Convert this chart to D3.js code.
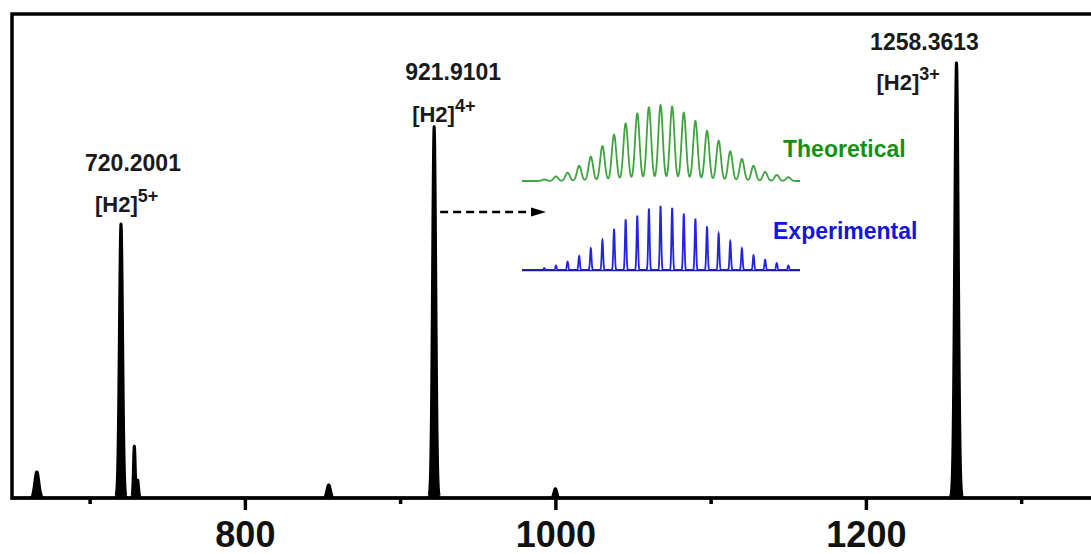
<!DOCTYPE html>
<html>
<head>
<meta charset="utf-8">
<script src="https://cdn.jsdelivr.net/npm/d3@7"></script>
<style>
  body { margin: 0; background: #fff; }
  svg { display: block; }
</style>
</head>
<body>
<svg id="vis"></svg>
<script>
const WIDTH = 1091;
const HEIGHT = 554;

// main spectrum: m/z, relative intensity (% of y domain), peak width (m/z)
var peakMz = [666, 720.2001, 728.8, 730.9, 854, 921.9101, 1000, 1258.3613];
var peakInt = [5.4, 56.6, 10.7, 3.7, 2.7, 76.7, 1.9, 89.9];
var peakSigma = [1.3, 1.0, 0.55, 0.6, 1.1, 1.0, 0.9, 1.1];

var majorTicks = [800, 1000, 1200];
var minorTicks = [700, 900, 1100, 1300];

// labelled ions
var labelMz = [720.2001, 921.9101, 1258.3613];
var labelCharge = ["5+", "4+", "3+"];

// isotope pattern of the 4+ ion (inset)
var isoMz = [919.41, 919.66, 919.91, 920.16, 920.41, 920.66, 920.91, 921.16, 921.41, 921.66, 921.91,
             922.16, 922.41, 922.66, 922.91, 923.16, 923.41, 923.66, 923.91, 924.16, 924.41, 924.66];
var theoInt = [2, 6, 11, 20, 32, 46, 61, 76, 89, 97, 100, 98, 90, 79, 66, 53, 39, 29, 20, 12, 8, 5];
var expInt = [3, 7, 13, 22, 34, 47, 64, 79, 85, 96, 100, 97, 88, 80, 68, 57, 45, 34, 23, 16, 11, 7];

var FONT = "'Liberation Sans', Arial, sans-serif";

window.onload = function() {
    setupVis();
};

// turn stick values into a sampled profile
function profile(mzs, ints, sigmas, lo, hi, step) {
    var pts = [];
    for (var m = lo; m <= hi + 1e-9; m += step) {
        var v = 0;
        for (var i = 0; i < mzs.length; i++) {
            var s = Array.isArray(sigmas) ? sigmas[i] : sigmas;
            var d = (m - mzs[i]) / s;
            if (Math.abs(d) < 6) v += ints[i] * Math.exp(-0.5 * d * d);
        }
        pts.push([m, v]);
    }
    return pts;
}

function setupVis() {
    let svg = d3.select("#vis")
        .attr("width", WIDTH)
        .attr("height", HEIGHT);

    let x = d3.scaleLinear().domain([650, 1345]).range([12, 1091]);
    let y = d3.scaleLinear().domain([0, 100]).range([498, 14]);

    // spectrum
    let spec = profile(peakMz, peakInt, peakSigma, 650, 1345, 0.05);
    let area = d3.area()
        .x(function(d) { return x(d[0]); })
        .y0(y(0))
        .y1(function(d) { return y(d[1]); });
    svg.append("path")
        .datum(spec)
        .attr("d", area)
        .attr("fill", "#000")
        .attr("stroke", "#000")
        .attr("stroke-width", 3)
        .attr("stroke-linejoin", "round");

    // frame
    svg.append("path")
        .attr("d", "M" + x.range()[1] + "," + y(100) + "H" + x.range()[0] + "V" + y(0) + "H" + x.range()[1])
        .attr("fill", "none")
        .attr("stroke", "#000")
        .attr("stroke-width", 3.5);

    // axis
    let minorAxis = d3.axisBottom(x).tickValues(minorTicks).tickSize(6).tickFormat("");
    let majorAxis = d3.axisBottom(x).tickValues(majorTicks).tickSize(12).tickFormat(d3.format("d"));

    svg.append("g").attr("transform", "translate(0," + y(0) + ")").call(minorAxis)
        .call(function(g) { g.select(".domain").remove(); })
        .selectAll("line").attr("stroke", "#000").attr("stroke-width", 3.5);

    let gMaj = svg.append("g").attr("transform", "translate(0," + y(0) + ")").call(majorAxis);
    gMaj.select(".domain").remove();
    gMaj.selectAll("line").attr("stroke", "#000").attr("stroke-width", 3.5);
    gMaj.selectAll("text")
        .attr("y", 49)
        .attr("dy", 0)
        .attr("fill", "#111")
        .style("font-family", FONT)
        .style("font-weight", "bold")
        .style("font-size", "36px");

    // peak labels, offsets from the peak apex
    let numDx = [12, 19, -32];
    let ionDx = [-26, -22, -80];
    let numDy = [-53, -47, -13];
    let ionDy = [-12, -5, 27];
    labelMz.forEach(function(m, i) {
        let px = x(m);
        let top = y(peakInt[peakMz.indexOf(m)]);
        svg.append("text")
            .attr("x", px + numDx[i])
            .attr("y", top + numDy[i])
            .attr("text-anchor", "middle")
            .attr("fill", "#1a1a1a")
            .style("font-family", FONT)
            .style("font-weight", "bold")
            .style("font-size", "23px")
            .text(d3.format(".4f")(m));
        let t = svg.append("text")
            .attr("x", px + ionDx[i])
            .attr("y", top + ionDy[i])
            .attr("fill", "#1a1a1a")
            .style("font-family", FONT)
            .style("font-weight", "bold")
            .style("font-size", "22px");
        t.append("tspan").text("[H2]");
        t.append("tspan").attr("dy", -10).style("font-size", "18px").text(labelCharge[i]);
    });

    // inset isotope patterns
    let xi = d3.scaleLinear().domain([918.93, 924.91]).range([522, 800]);
    let yTheo = d3.scaleLinear().domain([0, 100]).range([181, 105]);
    let yExp = d3.scaleLinear().domain([0, 100]).range([270, 206]);

    let theo = profile(isoMz, theoInt, 0.048, 918.93, 924.91, 0.004);
    let exper = profile(isoMz, expInt, 0.015, 918.93, 924.91, 0.002);

    svg.append("path")
        .datum(theo)
        .attr("d", d3.line().x(function(d) { return xi(d[0]); }).y(function(d) { return yTheo(d[1]); }))
        .attr("fill", "none")
        .attr("stroke", "#3fa33f")
        .attr("stroke-width", 1.8);

    svg.append("path")
        .datum(exper)
        .attr("d", d3.line().x(function(d) { return xi(d[0]); }).y(function(d) { return yExp(d[1]); }))
        .attr("fill", "none")
        .attr("stroke", "#2323e6")
        .attr("stroke-width", 1.8);

    svg.append("line")
        .attr("x1", xi.range()[0]).attr("x2", xi.range()[1])
        .attr("y1", yExp(0) + 0.5).attr("y2", yExp(0) + 0.5)
        .attr("stroke", "#1a1a9a")
        .attr("stroke-width", 1.6);

    svg.append("text")
        .attr("x", 783).attr("y", 157)
        .attr("fill", "#149114")
        .style("font-family", FONT).style("font-weight", "bold").style("font-size", "23px")
        .text("Theoretical");
    svg.append("text")
        .attr("x", 773).attr("y", 239)
        .attr("fill", "#1515e0")
        .style("font-family", FONT).style("font-weight", "bold").style("font-size", "23px")
        .text("Experimental");

    // dashed arrow from the 4+ peak to the inset
    let ay = 212;
    let ax0 = x(921.9101) + 6;
    let ax1 = xi.range()[0] + 24;
    svg.append("line")
        .attr("x1", ax0).attr("x2", ax1 - 12)
        .attr("y1", ay).attr("y2", ay)
        .attr("stroke", "#000")
        .attr("stroke-width", 2.5)
        .attr("stroke-dasharray", "8,5");
    svg.append("path")
        .attr("d", "M" + ax1 + "," + ay + "L" + (ax1 - 15) + "," + (ay - 4.5) + "L" + (ax1 - 15) + "," + (ay + 4.5) + "Z")
        .attr("fill", "#000");
}
</script>
</body>
</html>
